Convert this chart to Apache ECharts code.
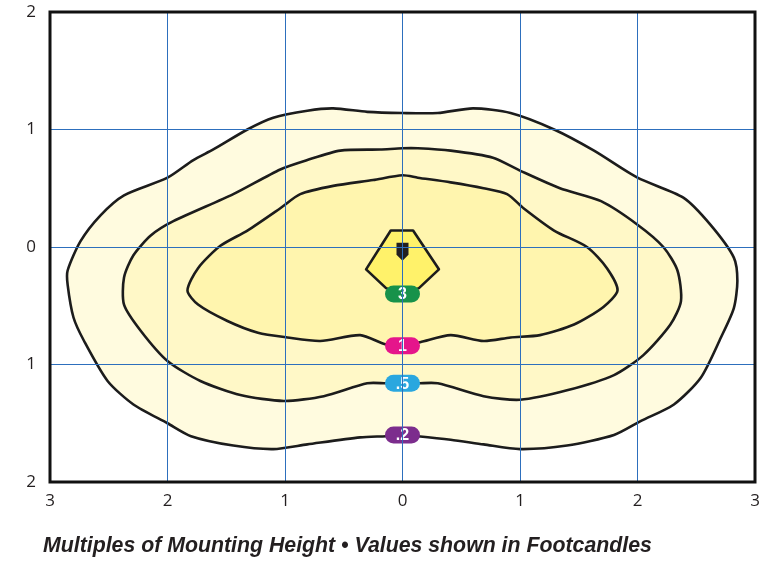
<!DOCTYPE html>
<html>
<head>
<meta charset="utf-8">
<script src="https://cdn.jsdelivr.net/npm/echarts@6/dist/echarts.min.js"></script>
<style>
  html, body { margin: 0; padding: 0; background: #fff; }
  #chart { width: 784px; height: 561px; }
</style>
</head>
<body>
<div id="chart"></div>
<script>
// axis ticks (multiples of mounting height)
const xTicks = [-3, -2, -1, 0, 1, 2, 3]
const yTicks = [-2, -1, 0, 1, 2]

// isofootcandle contours, [x, y] in mounting heights
const contour02 = [
  [0, 1.14], [0.30, 1.14], [0.60, 1.18], [0.92, 1.14], [1.29, 1.00], [1.63, 0.82], [2.00, 0.59],
  [2.39, 0.42], [2.62, 0.19], [2.82, -0.09], [2.85, -0.29], [2.82, -0.52], [2.71, -0.77],
  [2.54, -1.11], [2.31, -1.34], [2.03, -1.48], [1.80, -1.60], [1.40, -1.69], [1.00, -1.72],
  [0.69, -1.68], [0.41, -1.64], [0.13, -1.61], [0, -1.60], [-0.14, -1.61], [-0.36, -1.62],
  [-0.81, -1.68], [-1.10, -1.72], [-1.44, -1.69], [-1.80, -1.61], [-2.00, -1.50], [-2.29, -1.34],
  [-2.51, -1.14], [-2.71, -0.80], [-2.80, -0.60], [-2.85, -0.32], [-2.85, -0.20], [-2.74, 0.05],
  [-2.57, 0.27], [-2.37, 0.44], [-2.00, 0.59], [-1.78, 0.74], [-1.61, 0.83], [-1.32, 1.00],
  [-1.10, 1.10], [-0.81, 1.16], [-0.59, 1.18], [-0.30, 1.15]
]
const contour05 = [
  [0, 0.84], [0.13, 0.84], [0.41, 0.82], [0.77, 0.76], [1.00, 0.65], [1.34, 0.50], [1.69, 0.39],
  [2.00, 0.19], [2.22, 0.00], [2.34, -0.20], [2.37, -0.46], [2.28, -0.66], [2.05, -0.92],
  [1.80, -1.09], [1.40, -1.22], [1.00, -1.30], [0.69, -1.27], [0.30, -1.16], [0.13, -1.16],
  [0, -1.16], [-0.14, -1.16], [-0.30, -1.16], [-0.67, -1.27], [-1.01, -1.31], [-1.38, -1.26],
  [-1.72, -1.14], [-2.00, -0.97], [-2.23, -0.71], [-2.37, -0.49], [-2.37, -0.26], [-2.29, -0.07],
  [-2.14, 0.10], [-1.95, 0.22], [-1.44, 0.45], [-1.04, 0.66], [-0.81, 0.74], [-0.53, 0.82],
  [-0.19, 0.83]
]
const contour1 = [
  [0, 0.61], [0.13, 0.59], [0.41, 0.55], [0.69, 0.50], [0.89, 0.45], [1.03, 0.33], [1.29, 0.14],
  [1.57, 0.00], [1.74, -0.18], [1.83, -0.37], [1.71, -0.51], [1.46, -0.66], [1.17, -0.75],
  [0.92, -0.77], [0.69, -0.80], [0.41, -0.75], [0.15, -0.81], [0, -0.84], [-0.14, -0.83],
  [-0.36, -0.75], [-0.70, -0.80], [-0.98, -0.77], [-1.23, -0.73], [-1.49, -0.63], [-1.74, -0.49],
  [-1.83, -0.37], [-1.74, -0.18], [-1.55, 0.01], [-1.32, 0.14], [-1.04, 0.33], [-0.87, 0.45],
  [-0.59, 0.52], [-0.25, 0.57]
]
const contour3 = [
  [-0.10, 0.14], [0.09, 0.14], [0.31, -0.19], [0.14, -0.35], [0, -0.40], [-0.14, -0.35], [-0.31, -0.19]
]

// value labels placed on the contours
const labelNames = ['3', '1', '.5', '.2']
const labelY = [-0.40, -0.84, -1.16, -1.60]
const labelColors = ['#17924a', '#e5158b', '#2aa7df', '#7c2d8d']

const contours = [contour02, contour05, contour1, contour3]
const fills = ['#fffbdf', '#fff8c7', '#fff5ae', '#fff26a']
const smooths = [0.25, 0.25, 0.25, 0]

const chart = echarts.init(document.getElementById('chart'))

// one polygon per contour, drawn either as fill or as outline
function contourItem(asStroke) {
  return (params, api) => {
    const i = api.value(0)
    const pts = contours[i].map(p => api.coord(p))
    return {
      type: 'polygon',
      shape: { points: pts, smooth: smooths[i] },
      style: asStroke
        ? { fill: null, stroke: '#1c1c1c', lineWidth: 2.6, lineJoin: 'round' }
        : { fill: fills[i] }
    }
  }
}

chart.setOption({
  animation: false,
  title: {
    text: 'Multiples of Mounting Height • Values shown in Footcandles',
    left: 38, top: 531,
    textStyle: { fontFamily: 'Liberation Sans', fontStyle: 'italic', fontWeight: 'bold', fontSize: 21.3, color: '#231f20' }
  },
  grid: { left: 50, right: 29, top: 12, bottom: 79, show: true, borderColor: '#111', borderWidth: 3, backgroundColor: 'transparent', z: 6 },
  xAxis: {
    type: 'value', min: -3, max: 3, interval: 1, z: 3,
    axisLine: { show: false }, axisTick: { show: false },
    axisLabel: { margin: 11, fontSize: 17, color: '#231f20', fontFamily: 'Open Sans', formatter: v => Math.abs(v) },
    splitLine: { lineStyle: { width: 1, color: '#2d6fbd' } }
  },
  yAxis: {
    type: 'value', min: -2, max: 2, interval: 1, z: 3,
    axisLine: { show: false }, axisTick: { show: false },
    axisLabel: { margin: 14, fontSize: 17, color: '#231f20', fontFamily: 'Open Sans', formatter: v => Math.abs(v) },
    splitLine: { lineStyle: { width: 1, color: '#2d6fbd' } }
  },
  series: [
    {
      type: 'custom',
      coordinateSystem: 'cartesian2d',
      data: contours.map((c, i) => [i]),
      z: 1,
      renderItem: contourItem(false)
    },
    {
      type: 'custom',
      coordinateSystem: 'cartesian2d',
      data: contours.map((c, i) => [i]),
      z: 2,
      renderItem: contourItem(true)
    },
    {
      type: 'scatter',
      z: 2.5,
      symbol: 'path://M0,0 H12 V12 L6,18 L0,12 Z',
      symbolSize: [12, 18],
      itemStyle: { color: '#231f20', opacity: 1 },
      data: [[0, -0.04]]
    },
    {
      type: 'custom',
      coordinateSystem: 'cartesian2d',
      z: 2.5,
      data: labelNames.map((n, i) => [0, labelY[i], i]),
      renderItem: (params, api) => {
        const c = api.coord([api.value(0), api.value(1)])
        const i = api.value(2)
        const w = 35, h = 17
        return {
          type: 'group',
          children: [
            { type: 'rect', shape: { x: c[0] - w / 2, y: c[1] - h / 2, width: w, height: h, r: 8.5 }, style: { fill: labelColors[i] } },
            { type: 'text', style: { text: labelNames[i], x: c[0], y: c[1] + 1, align: 'center', verticalAlign: 'middle', fill: '#fff', font: 'bold 16px "Liberation Sans"' } }
          ]
        }
      }
    }
  ]
})
</script>
</body>
</html>
